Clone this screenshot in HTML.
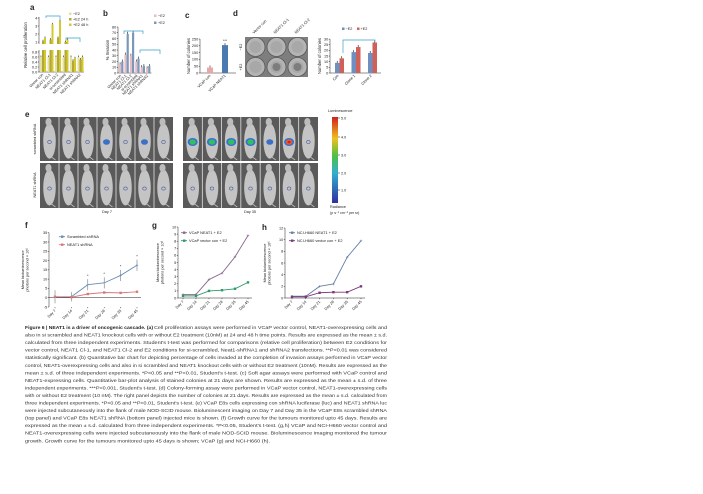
<!DOCTYPE html>
<html><head><meta charset="utf-8"><style>
html,body{margin:0;padding:0;background:#fff;}
svg{display:block;font-family:"Liberation Sans",sans-serif;}
</style></head><body>
<svg id="fig" width="703" height="494" viewBox="0 0 703 494" xmlns="http://www.w3.org/2000/svg"></svg>
<script>
// ---------- data ----------
const aCats=["Vector con","NEAT1 Cl-1","NEAT1 Cl-2","si-scrambled","NEAT1 shRNA1","NEAT1 shRNA2"];
const aNoE2=[0.6,0.6,0.6,0.6,0.6,0.6];
const aE2h24=[1.1,1.3,1.5,1.0,0.45,0.5];
const aE2h48=[1.5,3.2,3.6,1.3,0.55,0.6];
const bCats=["Vector con","NEAT1 Cl-1","NEAT1 Cl-2","si-scrambled","NEAT1 shRNA1","NEAT1 shRNA2"];
const bNoE2=[15,32,30,20,10,8];
const bE2=[20,68,70,25,12,12];
const bTicks=[0,10,20,30,40,50,60,70,80];
const cCats=["VCaP con","VCaP NEAT1"];
const cVals=[40,205];
const cTicks=[0,50,100,150,200,250];
const dCats=["Con","Clone 1","Clone 2"];
const dNoE2=[9,18.5,17.7];
const dE2=[13,23,27];
const dTicks=[0,5,10,15,20,25,30];
const days=["Day 7","Day 14","Day 21","Day 28","Day 35","Day 45"];
const fScr=[0.5,0.5,7,8,12,17.5];
const fScrErr=[3.5,2.5,3,3,3,3];
const fSh=[0.5,0.3,2,2.8,2.6,3.2];
const fTicks=[-5,0,5,10,15,20,25,30,35];
const gNeat=[0.5,0.5,2.6,3.5,5.8,8.8];
const gVec=[0.3,0.3,1.0,1.1,1.3,2.2];
const gTicks=[0,1,2,3,4,5,6,7,8,9,10];
const hNeat=[0.3,0.3,2.0,2.4,7.0,9.8];
const hVec=[0.2,0.2,0.9,1.0,1.0,2.0];
const hTicks=[0,2,4,6,8,10,12];

const svg=document.getElementById('fig');
const NS="http://www.w3.org/2000/svg";
function mk(tag,attrs,name,parent){
  const el=document.createElementNS(NS,tag);
  for(const k in attrs) el.setAttribute(k,attrs[k]);
  
  
  (parent||svg).appendChild(el);
  return el;
}
function txt(x,y,s,size,name,extra,parent){
  const a=Object.assign({x:x,y:y,'font-size':size,fill:'#222'},extra||{});
  const t=mk('text',a,name,parent);
  t.textContent=s;
  return t;
}
function line(x1,y1,x2,y2,name,col,w,parent){
  return mk('line',{x1:x1,y1:y1,x2:x2,y2:y2,stroke:col||'#222','stroke-width':w||0.5},name,parent);
}
function rotLabel(x,y,s,name,size){
  txt(x,y,s,size||3.8,name,{'text-anchor':'end',transform:'rotate(-45 '+x+' '+y+')'});
}
function panelLabel(x,y,s){
  txt(x,y,s,8,'panel-label-'+s,{'font-weight':'bold'});
}
function yTitle(x,y,s,name,size){
  txt(x,y,s,size||4.2,name,{'text-anchor':'middle',transform:'rotate(-90 '+x+' '+y+')'});
}

// ---------- panel a ----------
panelLabel(30,10,'a');
function ya(v){return v<=0.8? 72-v*25 : 42-(v-1)*8;}
const aX0=39,aGW=7.5;
line(aX0,17,aX0,44,'a-y-axis-upper');
line(aX0,50,aX0,72,'a-y-axis-lower');
line(aX0,72,aX0+aGW*6,72,'a-x-axis');
[0,0.2,0.4,0.6,0.8,1,2,3,4].forEach(v=>{
  line(aX0-1.2,ya(v),aX0,ya(v),'a-tick');
  txt(aX0-1.8,ya(v)+1.3,v<1?v.toFixed(1):String(v),3.8,'a-tick-label',{'text-anchor':'end'});
});
yTitle(27,45,'Relative cell proliferation','a-y-axis-title');
const aCols=['#e6e0a0','#b0a838','#d4c830'];
[aNoE2,aE2h24,aE2h48].forEach((ser,si)=>{
  ser.forEach((v,i)=>{
    const x=aX0+1+i*aGW+si*2;
    const yt=ya(v);
    if(v>0.8){
      mk('rect',{x:x,y:yt,width:2,height:44-yt,fill:aCols[si]},'a-bar-upper');
      mk('rect',{x:x,y:50,width:2,height:22,fill:aCols[si]},'a-bar');
    } else mk('rect',{x:x,y:yt,width:2,height:72-yt,fill:aCols[si]},'a-bar');
    line(x+1,yt-1.5,x+1,yt,'a-error-bar','#111',0.6);
  });
});
aCats.forEach((c,i)=>rotLabel(aX0+i*aGW+4.5,75,c,'a-x-label'));
mk('polyline',{points:'46,18 46,16 60,16 60,20',fill:'none',stroke:'#39a0c8','stroke-width':0.7},'a-sig-bracket');
mk('polyline',{points:'66,40 66,38 80,38 80,42',fill:'none',stroke:'#39a0c8','stroke-width':0.7},'a-sig-bracket');
[['−E2',15],['+E2 24 h',20.5],['+E2 48 h',26]].forEach((l,i)=>{
  mk('rect',{x:69,y:l[1]-2.5,width:2.5,height:2.5,fill:aCols[i]},'a-legend-swatch');
  txt(73,l[1],l[0],3.8,'a-legend-label');
});

// ---------- panel b ----------
panelLabel(103,16,'b');
const bX0=118,bGW=5.4;
function yb(v){return 73-v*0.575;}
line(bX0,yb(80),bX0,73,'b-y-axis');
line(bX0,73,bX0+bGW*6+1,73,'b-x-axis');
bTicks.forEach(v=>{line(bX0-1.2,yb(v),bX0,yb(v),'b-tick');txt(bX0-1.8,yb(v)+1.3,String(v),3.8,'b-tick-label',{'text-anchor':'end'});});
yTitle(109,50,'% Invasion','b-y-axis-title');
const bCols=['#e8bcc4','#7a98b8'];
[bNoE2,bE2].forEach((ser,si)=>ser.forEach((v,i)=>{
  const x=bX0+1+i*bGW+si*2.2;
  mk('rect',{x:x,y:yb(v),width:2.2,height:v*0.575,fill:bCols[si]},'b-bar');
  line(x+1.1,yb(v)-2,x+1.1,yb(v),'b-error-bar','#111',0.6);
}));
bCats.forEach((c,i)=>rotLabel(bX0+i*bGW+3.5,76,c,'b-x-label'));
mk('polyline',{points:'124,34 124,31 143,31 143,34',fill:'none',stroke:'#39a0c8','stroke-width':0.7},'b-sig-bracket');
mk('polyline',{points:'140,53 140,50 160,50 160,54',fill:'none',stroke:'#39a0c8','stroke-width':0.7},'b-sig-bracket');
[['−E2',17],['+E2',24]].forEach((l,i)=>{
  mk('rect',{x:154,y:l[1]-2.5,width:2.5,height:2.5,fill:bCols[i]},'b-legend-swatch');
  txt(158,l[1],l[0],3.8,'b-legend-label');
});

// ---------- panel c ----------
panelLabel(185,18,'c');
const cX0=200;
function yc(v){return 73-v*0.136;}
line(cX0,yc(250),cX0,73,'c-y-axis');
line(cX0,73,236,73,'c-x-axis');
cTicks.forEach(v=>{line(cX0-1.2,yc(v),cX0,yc(v),'c-tick');txt(cX0-1.8,yc(v)+1.3,String(v),3.8,'c-tick-label',{'text-anchor':'end'});});
yTitle(190,56,'Number of colonies','c-y-axis-title');
const cCols=['#e8a8a8','#4a7ab0'];
cVals.forEach((v,i)=>{
  const x=207+i*15;
  mk('rect',{x:x,y:yc(v),width:6,height:v*0.136,fill:cCols[i]},'c-bar');
  line(x+3,yc(v)-2,x+3,yc(v),'c-error-bar','#111',0.6);
  txt(x+3,yc(v)-3,i==1?'***':'',3.5,'c-significance',{'text-anchor':'middle'});
});
cCats.forEach((c,i)=>rotLabel(211+i*15,76,c,'c-x-label'));

// ---------- panel d plates ----------
panelLabel(233,16,'d');
mk('rect',{x:245,y:37,width:63,height:40,fill:'#7e7e7e'},'d-plate-image');
for(let r=0;r<2;r++)for(let c=0;c<3;c++){
  mk('circle',{cx:255.5+c*21,cy:47+r*20,r:9.5,fill:'#b4b4b4',stroke:'#5a5a5a','stroke-width':0.8},'d-plate-well');
  mk('circle',{cx:255.5+c*21,cy:47+r*20,r:6,fill:'#a8a8a8'},'d-plate-texture');
  if(r==1&&c>0){mk('circle',{cx:255.5+c*21,cy:67,r:4,fill:'#606060',opacity:0.6},'d-colony-cluster');}
}
['Vector con','NEAT1 Cl-1','NEAT1 Cl-2'].forEach((s,i)=>txt(254+i*21,34,s,3.8,'d-column-label',{transform:'rotate(-45 '+(254+i*21)+' 34)'}));
yTitle(242,47,'−E2','d-row-label',3.8);yTitle(242,67,'+E2','d-row-label',3.8);

// ---------- panel d bars ----------
const dX0=330;
function yd(v){return 73-v*1.13;}
line(dX0,yd(30),dX0,73,'d-y-axis');
line(dX0,73,381,73,'d-x-axis');
dTicks.forEach(v=>{line(dX0-1.2,yd(v),dX0,yd(v),'d-tick');txt(dX0-1.8,yd(v)+1.3,String(v),3.8,'d-tick-label',{'text-anchor':'end'});});
yTitle(321,56,'Number of colonies','d-y-axis-title');
const dCols=['#6f8fc0','#d0605a'];
[dNoE2,dE2].forEach((ser,si)=>ser.forEach((v,i)=>{
  const x=335+i*16.5+si*4.5;
  mk('rect',{x:x,y:yd(v),width:4.5,height:v*1.13,fill:dCols[si]},'d-bar');
  line(x+2.2,yd(v)-2,x+2.2,yd(v),'d-error-bar','#111',0.6);
}));
dCats.forEach((c,i)=>rotLabel(339+i*16.5,76,c,'d-x-label'));
mk('polyline',{points:'343,53 343,40 375,40 375,42',fill:'none',stroke:'#39a0c8','stroke-width':0.7},'d-sig-bracket');
[['−E2',342],['+E2',357]].forEach((l,i)=>{
  mk('rect',{x:l[1],y:27.5,width:2.5,height:2.5,fill:dCols[i]},'d-legend-swatch');
  txt(l[1]+3.5,30,l[0],3.8,'d-legend-label');
});

// ---------- panel e mice ----------
panelLabel(25,117,'e');
const glow=[[0,0,0,1,0,1,0.3],[2,3,3,2.5,1.5,4,0.6]];
[[40,173],[183,318]].forEach((g,gi)=>{
  for(let r=0;r<2;r++){
    const y0=r==0?117:163,h=r==0?44:45;
    mk('rect',{x:g[0],y:y0,width:g[1]-g[0],height:h,fill:'#5a5a5a'},'e-mouse-image-panel');
    const w=(g[1]-g[0])/7;
    for(let m=0;m<7;m++){
      const cx=g[0]+w*m+w/2;
      if(m>0) line(g[0]+w*m,y0,g[0]+w*m,y0+h,'e-mouse-divider','#f4f4f4',0.7);
      mk('ellipse',{cx:cx,cy:y0+h/2+2,rx:w*0.33,ry:h*0.4,fill:'#c4c4c4'},'e-mouse');
      mk('ellipse',{cx:cx-1,cy:y0+5,rx:w*0.16,ry:4,fill:'#bcbcbc'},'e-mouse-head');
      line(cx+2,y0+h-4,cx+6,y0+h-1,'e-mouse-tail','#bcbcbc',0.8);
      const gv=r==0?glow[gi][m]:0.3;
      if(gv>=2){
        mk('ellipse',{cx:cx,cy:y0+h/2+3,rx:5,ry:4,fill:'#3a70d0'},'e-luminescence-signal');
        mk('ellipse',{cx:cx,cy:y0+h/2+3,rx:3.2,ry:2.6,fill:gv>=4?'#e06030':'#30c060'},'e-luminescence-signal');
        if(gv>=4) mk('ellipse',{cx:cx,cy:y0+h/2+3,rx:1.6,ry:1.3,fill:'#e02020'},'e-luminescence-signal');
      } else if(gv>=1){
        mk('ellipse',{cx:cx,cy:y0+h/2+3,rx:3.5,ry:2.8,fill:'#3a70c8'},'e-luminescence-signal');
      } else {
        mk('ellipse',{cx:cx,cy:y0+h/2+3,rx:1.8,ry:1.6,fill:'none',stroke:'#4a5aa0','stroke-width':0.6},'e-luminescence-signal');
      }
    }
  }
});
yTitle(36,139,'scrambled shRNA','e-row-label-top',3.8);
yTitle(36,185,'NEAT1 shRNA','e-row-label-bottom',3.8);
txt(107,213,'Day 7',3.8,'e-day7-label',{'text-anchor':'middle'});
txt(250,213,'Day 35',3.8,'e-day35-label',{'text-anchor':'middle'});
const defs=mk('defs',{},'defs');
const lg=mk('linearGradient',{id:'lum',x1:0,y1:0,x2:0,y2:1},'luminescence-gradient',defs);
[['0','#d02020'],['0.25','#f0c020'],['0.45','#50c040'],['0.65','#30b0d0'],['1','#3030a0']].forEach(s=>mk('stop',{offset:s[0],'stop-color':s[1]},'gradient-stop',lg));
mk('rect',{x:332,y:117,width:6,height:86,fill:'url(#lum)'},'e-color-bar');
txt(328,112,'Luminescence',3.8,'e-color-bar-title');
[['5.0',118],['4.0',137],['3.0',155],['2.0',173],['1.0',190]].forEach(t=>{line(338,t[1],340,t[1],'e-color-tick');txt(341,t[1]+1.3,t[0],3.8,'e-color-tick-label');});
txt(330,208,'Radiance',3.8,'e-radiance-label');
txt(330,214,'(p s⁻¹ cm⁻² per sr)',3.6,'e-radiance-unit');

// ---------- line charts ----------
function lineChart(o){
  const {x0,xa,xb,y0,yTop,vmin,vmax,ticks,series,cols,pre,title,legend,ly,markers}=o;
  const yScale=v=>y0-(v-vmin)*(y0-yTop)/(vmax-vmin);
  const xs=i=>xa+i*(xb-xa)/(days.length-1);
  line(x0,yScale(vmax),x0,yScale(vmin),pre+'-y-axis');
  line(x0,yScale(0),xb+4,yScale(0),pre+'-x-axis');
  ticks.forEach(v=>{line(x0-1.2,yScale(v),x0,yScale(v),pre+'-tick');txt(x0-1.8,yScale(v)+1.3,String(v),3.8,pre+'-tick-label',{'text-anchor':'end'});});
  days.forEach((d,i)=>{line(xs(i),yScale(vmin),xs(i),yScale(vmin)+1.2,pre+'-x-tick');rotLabel(xs(i)+1,yScale(vmin)+4,d,pre+'-x-label',3.8);});
  series.forEach((s,si)=>{
    mk('polyline',{points:s.map((v,i)=>xs(i)+','+yScale(v)).join(' '),fill:'none',stroke:cols[si],'stroke-width':0.9},pre+'-series-line');
    s.forEach((v,i)=>{
      if(o.errs&&o.errs[si]){line(xs(i),yScale(v+o.errs[si][i]),xs(i),yScale(v-o.errs[si][i]),pre+'-error-bar','#333',0.4);}
      if(markers[si]=='sq') mk('rect',{x:xs(i)-1.2,y:yScale(v)-1.2,width:2.4,height:2.4,fill:cols[si]},pre+'-marker');
      else { line(xs(i)-1.2,yScale(v),xs(i)+1.2,yScale(v),pre+'-marker',cols[si],0.6); line(xs(i),yScale(v)-1.2,xs(i),yScale(v)+1.2,pre+'-marker',cols[si],0.6); }
    });
  });
  yTitle(title[0],(yScale(vmax)+y0)/2,'Mean bioluminescence','y-axis-title-'+pre,3.8);
  yTitle(title[0]+4.5,(yScale(vmax)+y0)/2,'photons per second × 10⁶','y-axis-title-'+pre+'-2',3.8);
  legend.forEach((l,i)=>{
    line(ly[0],ly[1]+i*8-1.3,ly[0]+6,ly[1]+i*8-1.3,pre+'-legend-line',cols[i],0.9);
    mk('rect',{x:ly[0]+2,y:ly[1]+i*8-2.5,width:2.4,height:2.4,fill:cols[i]},pre+'-legend-marker');
    txt(ly[0]+8,ly[1]+i*8,l,3.9,pre+'-legend-label');
  });
}
panelLabel(25,228,'f');
lineChart({x0:49,xa:55,xb:137,y0:307,yTop:232.7,vmin:-5,vmax:35,ticks:fTicks,series:[fScr,fSh],errs:[fScrErr,null],cols:['#6a8fb5','#d87878'],pre:'f',title:[24],legend:['Scrambled shRNA','NEAT1 shRNA'],ly:[59,238],markers:['x','sq']});
[2,3,4,5].forEach(i=>txt(55+i*16.4,[7,8,12,17.5][i-2]*-1.86+298-8,'*',4,'f-significance',{'text-anchor':'middle'}));
panelLabel(152,228,'g');
lineChart({x0:178,xa:183,xb:248,y0:298,yTop:227,vmin:0,vmax:10,ticks:gTicks,series:[gNeat,gVec],cols:['#8a6a90','#2e9a6a'],pre:'g',title:[159],legend:['VCaP NEAT1 + E2','VCaP vector con + E2'],ly:[181,234],markers:['x','sq']});
panelLabel(262,230,'h');
lineChart({x0:285,xa:292,xb:361,y0:298,yTop:228,vmin:0,vmax:12,ticks:hTicks,series:[hNeat,hVec],cols:['#6a80a8','#7a3a7a'],pre:'h',title:[266],legend:['NCI-H660 NEAT1 + E2','NCI-H660 vector con + E2'],ly:[289,234],markers:['x','sq']});

// ---------- caption ----------
const cap=[
"Cell proliferation assays were performed in VCaP vector control, NEAT1-overexpressing cells and",
"also in si scrambled and NEAT1 knockout cells with or without E2 treatment (10nM) at 24 and 48 h time points. Results are expressed as the mean ± s.d.",
"calculated from three independent experiments. Student's t-test was performed for comparisons (relative cell proliferation) between E2 conditions for",
"vector control, NEAT1 Cl-1, and NEAT1 Cl-2 and E2 conditions for si-scrambled, Neat1-shRNA1 and shRNA2 transfections. **P<0.01 was considered",
"statistically significant. (b) Quantitative bar chart for depicting percentage of cells invaded at the completion of invasion assays performed in VCaP vector",
"control, NEAT1-overexpressing cells and also in si scrambled and NEAT1 knockout cells with or without E2 treatment (10nM). Results are expressed as the",
"mean ± s.d. of three independent experiments. *P<0.05 and **P<0.01, Student's t-test. (c) Soft agar assays were performed with VCaP control and",
"NEAT1-expressing cells. Quantitative bar-plot analysis of stained colonies at 21 days are shown. Results are expressed as the mean ± s.d. of three",
"independent experiments. ***P<0.001, Student's t-test. (d) Colony-forming assay were performed in VCaP vector control, NEAT1-overexpressing cells",
"with or without E2 treatment (10 nM). The right panel depicts the number of colonies at 21 days. Results are expressed as the mean ± s.d. calculated from",
"three independent experiments. *P<0.05 and **P<0.01, Student's t-test. (e) VCaP E8s cells expressing con shRNA luciferase (luc) and NEAT1 shRNA luc",
"were injected subcutaneously into the flank of male NOD-SCID mouse. Bioluminescent imaging on Day 7 and Day 35 in the VCaP E8s scrambled shRNA",
"(top panel) and VCaP E8s NEAT1 shRNA (bottom panel) injected mice is shown. (f) Growth curve for the tumours monitored upto 45 days. Results are",
"expressed as the mean ± s.d. calculated from three independent experiments. *P<0.05, Student's t-test. (g,h) VCaP and NCI-H660 vector control and",
"NEAT1-overexpressing cells were injected subcutaneously into the flank of male NOD-SCID mouse. Bioluminescence imaging monitored the tumour",
"growth. Growth curve for the tumours monitored upto 45 days is shown; VCaP (g) and NCI-H660 (h)."];
txt(25,329,'Figure 6 | NEAT1 is a driver of oncogenic cascade. (a)',4.5,'caption-title',{'font-weight':'bold',textLength:128,lengthAdjust:'spacingAndGlyphs'});
cap.forEach((s,i)=>{
  const x=i==0?154:25, w=i==0?233:(i==cap.length-1?245:362);
  txt(x,329+i*7.55,s,4.5,'caption-line',{textLength:w,lengthAdjust:'spacingAndGlyphs',fill:'#333'});
});
</script>
</body></html>
